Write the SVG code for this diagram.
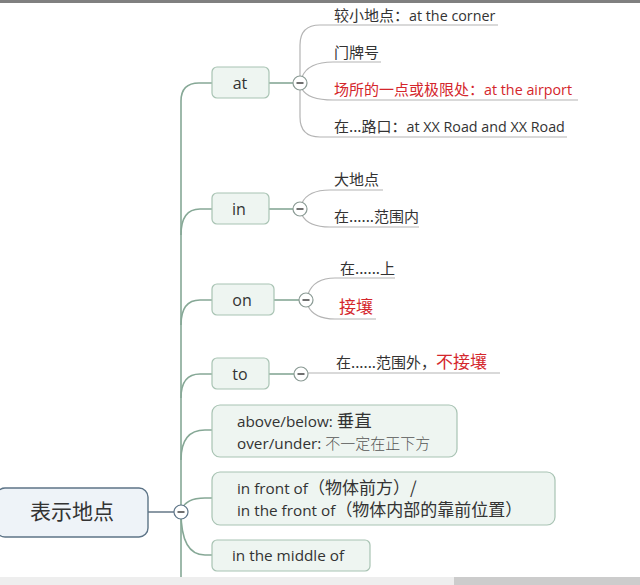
<svg xmlns="http://www.w3.org/2000/svg" width="640" height="585" viewBox="0 0 640 585">
<style>
.t{font-family:"Open Sans","Noto Sans CJK SC",sans-serif;fill:#333;font-size:14.3px}
.cn{font-family:"Noto Sans CJK SC","Open Sans",sans-serif}
.c15{font-family:"Noto Sans CJK SC","Open Sans",sans-serif;font-size:15px}
.c16{font-family:"Noto Sans CJK SC","Open Sans",sans-serif;font-size:17px}
.red{fill:#d4262c}
.nb{fill:#eef5f1;stroke:#a8c3b3;stroke-width:1.2}
.nl{font-family:"Open Sans","Noto Sans CJK SC",sans-serif;fill:#333;font-size:16px}
.nl2{font-family:"Open Sans","Noto Sans CJK SC",sans-serif;fill:#333;font-size:15.3px}
.tr{fill:none;stroke:#86a896;stroke-width:1.6}
.br{fill:none;stroke:#b4b4b4;stroke-width:1.2}
.cc{fill:#fff;stroke:#8a9a94;stroke-width:1.2}
.mn{stroke:#333;stroke-width:1.4}
</style>
<rect x="0" y="0" width="640" height="585" fill="#fff"/>
<rect x="0" y="0" width="640" height="3" fill="#808080"/>
<rect x="0" y="577" width="454" height="8" fill="#eeeeee"/>
<rect x="454" y="577" width="186" height="8" fill="#cccccc"/>

<g id="connectors">
  <path class="tr" d="M181,577 L181,101 Q181,83 199,83 L212,83"/>
  <path class="tr" d="M181,235 Q181,209 200,209 L212,209"/>
  <path class="tr" d="M181,325 Q181,300 200,300 L212,300"/>
  <path class="tr" d="M181,398 Q181,374 200,374 L212,374"/>
  <path class="tr" d="M181,460 Q181,430 205,430 L212,430"/>
  <path class="tr" d="M181,512 Q184,498 205,498 L212,498"/>
  <path class="tr" d="M181,512 Q181,555 205,555 L212,555"/>
  <path d="M148,512 L174,512" stroke="#5a6d7e" stroke-width="1.4" fill="none"/>
  <path class="tr" d="M269,83 L293,83"/>
  <path class="tr" d="M269,209 L293,209"/>
  <path class="tr" d="M274,300 L299,300"/>
  <path class="tr" d="M269,374 L294,374"/>
  <path class="br" d="M300,76 L300,45 Q300,25 320,25 L498,25"/>
  <path class="br" d="M302,77 Q308,62 333,62 L381,62"/>
  <path class="br" d="M302,89 Q308,100 333,100 L578,100"/>
  <path class="br" d="M300,90 L300,117 Q300,137 320,137 L567,137"/>
  <path class="br" d="M302,203 Q308,190 330,190 L383,190"/>
  <path class="br" d="M302,215 Q308,227 330,227 L419,227"/>
  <path class="br" d="M308,294 Q314,278 335,278 L395,278"/>
  <path class="br" d="M308,306 Q314,319 335,319 L376,319"/>
  <path class="br" d="M308,373 L500,373"/>
</g>

<g id="root">
  <rect x="-4" y="488" width="152" height="49" rx="9" fill="#eef3f8" stroke="#5d7487" stroke-width="1.4"/>
  <text x="72" y="519" text-anchor="middle" class="cn" font-size="21" fill="#333">表示地点</text>
  <circle cx="181" cy="512" r="7" fill="#fff" stroke="#5d7487" stroke-width="1.2"/>
  <line x1="177.5" y1="512" x2="184.5" y2="512" class="mn"/>
</g>

<g id="node-at">
  <rect class="nb" x="212" y="67" width="57" height="31" rx="5"/>
  <text class="nl" x="240" y="89" text-anchor="middle">at</text>
  <circle class="cc" cx="300" cy="83" r="7"/>
  <line x1="296.5" y1="83" x2="303.5" y2="83" class="mn"/>
</g>
<g id="at-c1"><text class="t" x="334" y="21"><tspan class="c15">较小地点：</tspan>at the corner</text></g>
<g id="at-c2"><text class="t c15" x="334" y="58">门牌号</text></g>
<g id="at-c3"><text class="t red" x="334" y="95"><tspan class="c15">场所的一点或极限处：</tspan>at the airport</text></g>
<g id="at-c4"><text class="t" x="334" y="132"><tspan class="c15">在...路口：</tspan>at XX Road and XX Road</text></g>

<g id="node-in">
  <rect class="nb" x="212" y="193" width="57" height="31" rx="5"/>
  <text class="nl" x="239" y="215" text-anchor="middle">in</text>
  <circle class="cc" cx="300" cy="209" r="7"/>
  <line x1="296.5" y1="209" x2="303.5" y2="209" class="mn"/>
</g>
<g id="in-c1"><text class="t c15" x="334" y="185">大地点</text></g>
<g id="in-c2"><text class="t c15" x="334" y="222">在......范围内</text></g>

<g id="node-on">
  <rect class="nb" x="212" y="284" width="62" height="31" rx="5"/>
  <text class="nl" x="242" y="306" text-anchor="middle">on</text>
  <circle class="cc" cx="306" cy="300" r="7"/>
  <line x1="302.5" y1="300" x2="309.5" y2="300" class="mn"/>
</g>
<g id="on-c1"><text class="t c15" x="340" y="274">在......上</text></g>
<g id="on-c2"><text class="t cn red" x="339" y="313" style="font-size:17px">接壤</text></g>

<g id="node-to">
  <rect class="nb" x="212" y="358" width="57" height="31" rx="5"/>
  <text class="nl" x="240" y="380" text-anchor="middle">to</text>
  <circle class="cc" cx="301" cy="374" r="7"/>
  <line x1="297.5" y1="374" x2="304.5" y2="374" class="mn"/>
</g>
<g id="to-c1"><text class="t c15" x="336" y="368">在......范围外，<tspan class="red" style="font-size:17px">不接壤</tspan></text></g>

<g id="node-above">
  <rect class="nb" x="212" y="405" width="245" height="52" rx="8"/>
  <text class="nl2" x="237" y="427">above/below: <tspan class="cn" style="font-size:17.5px">垂直</tspan></text>
  <text class="nl2" x="237" y="449">over/under: <tspan class="cn" style="font-size:15px;font-weight:300;fill:#555">不一定在正下方</tspan></text>
</g>

<g id="node-front">
  <rect class="nb" x="212" y="472" width="343" height="53" rx="8"/>
  <text class="nl2" x="237" y="494">in front of<tspan class="c16">（物体前方）/</tspan></text>
  <text class="nl2" x="237" y="516">in the front of<tspan class="c16">（物体内部的靠前位置）</tspan></text>
</g>

<g id="node-middle">
  <rect class="nb" x="212" y="540" width="158" height="31" rx="5"/>
  <text class="nl2" x="232" y="561">in the middle of</text>
</g>
</svg>
